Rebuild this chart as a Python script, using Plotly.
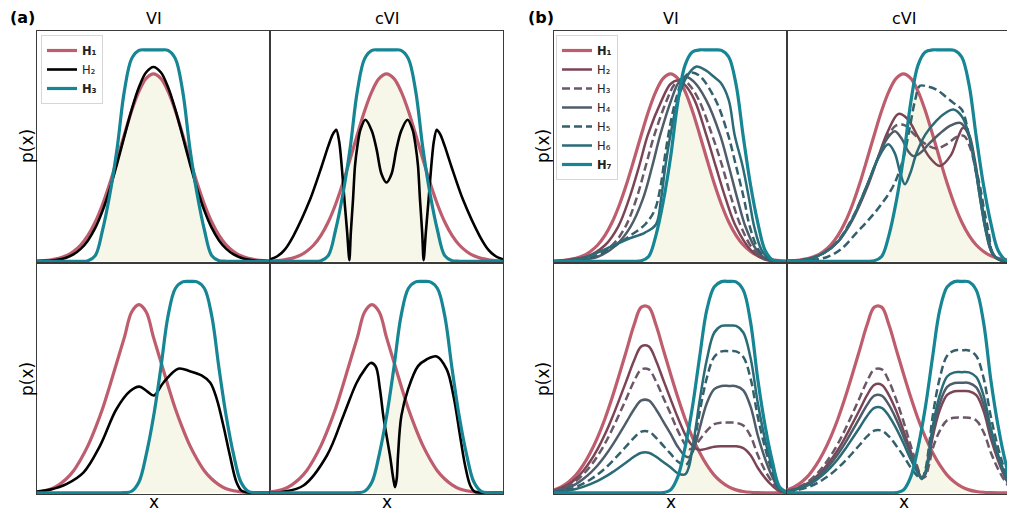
import numpy as np
import plotly.graph_objects as go

# ---------------- shared x grids (data units) ----------------
X = list(range(33))
XB = list(range(19)) + [18.5, 19, 19.5] + list(range(20, 33))

# ---------------- panel (a), top row ----------------
A_TOP_H1 = [0.15, 0.3, 0.7, 1.3, 2.4, 4.3, 7.1, 11.3, 17.1, 24.7, 33.9, 44.3, 55.1, 65.4, 73.8, 79.4, 81.4,
            79.4, 73.8, 65.4, 55.1, 44.3, 33.9, 24.7, 17.1, 11.3, 7.1, 4.3, 2.4, 1.3, 0.7, 0.3, 0.15]
A_TOP_H3 = [0, 0, 0, 0, 0, 0, 0, 0.3, 2.5, 13.5, 29, 49, 74, 88, 91.6, 91.8, 91.8,
            91.8, 91.6, 88, 74, 49, 29, 13.5, 2.5, 0.3, 0.05, 0, 0, 0, 0, 0, 0]
A_TOP_VI_H2 = [0.1, 0.2, 0.4, 0.8, 1.6, 3.0, 5.4, 9.1, 14.5, 21.9, 31.3, 42.4, 54.3, 65.9, 75.6, 82.1, 84.4,
               82.1, 75.6, 65.9, 54.3, 42.4, 31.3, 21.9, 14.5, 9.1, 5.4, 3.0, 1.6, 0.8, 0.4, 0.2, 0.1]
A_TOP_CVI_H2_X = [0, 1, 2, 3.2, 5.5, 7.1, 8.0, 8.6, 9.1, 9.5, 9.85, 10.22, 10.6, 10.9, 11.1, 11.4, 11.67, 12.0,
                  12.4, 13.1, 14.0, 14.65, 15.3, 16, 16.7, 17.35, 18.0, 18.9, 19.6, 20.0, 20.33, 20.6, 20.9,
                  21.1, 21.4, 21.78, 22.15, 22.5, 22.9, 23.4, 24.0, 24.9, 26.5, 28.8, 30, 31, 32]
A_TOP_CVI_H2 = [0.8, 2.2, 5, 11, 26.8, 41.3, 50, 55, 57.1, 52, 41.3, 26.8, 12.5, 0.5, 12.5, 26.8, 41.3, 50,
                57, 61.5, 56.5, 48.5, 38, 34.2, 38, 48.5, 56.5, 61.5, 57, 50, 41.3, 26.8, 12.5,
                0.5, 12.5, 26.8, 41.3, 52, 57.1, 55, 50, 41.3, 26.8, 11, 5, 2.2, 0.8]

# ---------------- panel (a), bottom row ----------------
A_BOT_H1 = [0.4, 0.9, 1.8, 3.5, 6, 9.5, 14.5, 20.5, 28, 36.5, 46.5, 57, 67.5, 78.5, 81.7, 78.5, 67.5,
            57, 46.5, 36.5, 28, 20.5, 14.5, 9.5, 6, 3.5, 1.8, 0.9, 0.4, 0.15, 0.05, 0, 0]
A_BOT_H3 = [0, 0, 0, 0, 0, 0, 0, 0, 0, 0, 0, 0, 0.06, 0.7, 4.7, 16.6, 33, 54, 76.8, 88.7, 91.6, 91.8,
            91.6, 88.7, 76.8, 54, 33, 16.6, 4.7, 0.7, 0.06, 0, 0]
A_BOT_VI_H2_X = [0, 1.8, 4.1, 6.4, 8.65, 10.9, 12.8, 14.05, 15.07, 16.07, 17.35, 19.4, 21.0, 22.6, 23.8,
                 24.7, 25.6, 26.5, 27.4, 28.1, 29, 32]
A_BOT_VI_H2 = [0.6, 1.4, 3.9, 8.9, 20.4, 36.3, 44.2, 46.1, 44.2, 42.3, 47.8, 53.9, 52.8, 51.0, 47.8,
               40.6, 29.1, 16.1, 4.6, 0.9, 0.2, 0]
A_BOT_CVI_H2_X = [0, 1.8, 4.6, 7.8, 10.07, 11.9, 13.0, 13.83, 14.5, 15.1, 15.56, 16.0, 16.48, 16.94, 17.17,
                  17.4, 17.58, 18.04, 18.96, 20.33, 21.5, 22.9, 24.27, 25.2, 26.1, 26.8, 27.5, 28.1, 29, 32]
A_BOT_CVI_H2 = [0.1, 0.5, 3.2, 16.1, 33.4, 47.8, 53.5, 56.4, 55, 45, 33.4, 25, 16.1, 6, 2.5,
                6, 16.1, 33.4, 44.9, 55, 57.9, 59.2, 53.6, 42, 24.8, 11.8, 3.2, 0.5, 0.1, 0]

# ---------------- panel (b), top row ----------------
B_TOP_H1 = A_TOP_H1
B_TOP_H7 = [0, 0, 0, 0, 0, 0, 0, 0, 0, 0, 0, 0, 0.25, 2.1, 11.3, 25.9, 45, 69, 85.2, 90.9, 91.8, 91.8,
            91.8, 91.6, 88.7, 76.8, 54, 33, 16.6, 4.7, 0.7, 0.06, 0]

B_TOP_VI_H2_X = [0, 1, 3, 4.5, 7, 8.8, 10.3, 11.7, 12.9, 14.8, 16.0, 17.0, 18.0, 19.3, 20.9, 22.2, 23.6,
                 25.0, 27.0, 28.8, 30.5, 32]
B_TOP_VI_H2 = [0.1, 0.3, 1.2, 2, 7, 15, 27, 41.4, 55, 70, 77, 78.5, 76.5, 70, 55, 41.4, 27, 15, 5, 1, 0.1, 0]
B_TOP_VI_H3_X = [0, 2.5, 5.5, 8, 9.8, 11.3, 12.6, 13.8, 15.5, 16.6, 17.6, 18.6, 19.9, 21.7, 23.1, 24.4,
                 25.7, 27.4, 29.0, 30.5, 32]
B_TOP_VI_H3 = [0.05, 0.6, 2, 7, 15, 27, 41.4, 55, 70, 77, 79, 76.5, 70, 55, 41.4, 27, 15, 5, 1, 0.1, 0]
B_TOP_VI_H4_X = [0, 3, 6, 8.5, 10.5, 12.2, 13.5, 14.6, 16.1, 17.1, 18.1, 19.2, 20.9, 22.8, 24.0, 25.2,
                 26.3, 27.8, 29.2, 30.7, 32]
B_TOP_VI_H4 = [0.05, 0.6, 2, 7, 15, 27, 41.4, 55, 70, 77.5, 80, 78, 70, 55, 41.4, 27, 15, 5, 1, 0.1, 0]
B_TOP_VI_H5_X = [0, 3, 5.5, 8, 10.4, 12.5, 13.8, 14.6, 15.3, 16.0, 16.8, 17.7, 18.8, 20.0, 22.2, 23.9,
                 25.0, 26.1, 26.9, 28.1, 29.4, 30.8, 32]
B_TOP_VI_H5 = [0.05, 0.6, 2, 6, 11, 16, 22, 32, 47, 60, 71, 79, 82, 80.5, 70, 55, 41.4, 27, 15, 5, 1, 0.1, 0]
B_TOP_VI_H6_X = [0, 3, 5, 7.5, 10, 12.5, 14.0, 14.7, 15.3, 16.0, 17.0, 18.2, 19.5, 20.8, 22.0, 22.9,
                 24.0, 24.8, 25.9, 26.8, 27.5, 28.5, 29.6, 31, 32]
B_TOP_VI_H6 = [0, 0.8, 2.5, 6, 9.5, 12.5, 16, 27, 41.4, 55, 70, 80, 84.5, 83, 80, 77.5, 70, 55, 41.4,
               27, 15, 5, 1, 0.1, 0]

B_TOP_CVI_H2_X = [0, 3, 5, 7, 9, 11, 12.5, 13.8, 15.3, 16.5, 18, 19.5, 21.0, 22.5, 23.5, 24.2, 25.0,
                  25.8, 26.6, 27.4, 28.3, 29.3, 32]
B_TOP_CVI_H2 = [0.1, 1, 3.5, 8.5, 18, 32, 45, 56, 64, 62, 54, 45.5, 41.4, 46, 54, 58, 55, 44, 28, 13, 3,
                0.5, 0]
B_TOP_CVI_H3_X = [0, 3, 5, 7, 9, 11, 12.5, 13.8, 15.0, 16.2, 17.5, 19, 20.5, 22, 23.3, 24.3, 25.2, 26,
                  26.8, 27.6, 28.4, 29.4, 32]
B_TOP_CVI_H3 = [0.1, 1, 3.5, 9, 19, 33, 45, 54, 59, 59, 55, 51, 49, 51, 54, 54.5, 49, 38, 24, 11, 3,
                0.5, 0]
B_TOP_CVI_H4_X = [0, 3, 5, 7, 9, 11, 12.5, 13.7, 14.8, 15.8, 16.6, 17.35, 18.3, 19.5, 21, 22.5, 23.8,
                  24.8, 25.6, 26.4, 27.2, 28.1, 29.2, 32]
B_TOP_CVI_H4 = [0.1, 1, 3.5, 8.5, 18.5, 33, 45, 53, 56.5, 53, 48, 45.7, 47, 51, 55.5, 59, 60.1, 56, 46,
                30, 15, 4, 0.6, 0]
B_TOP_CVI_H5_X = [0, 3, 5.45, 7.5, 9.6, 11.2, 12.8, 14.6, 15.95, 16.9, 17.6, 18.27, 19.2, 20.56, 21.8,
                  22.85, 24.0, 25.1, 25.8, 26.5, 27.1, 27.7, 28.3, 29.3, 32]
B_TOP_CVI_H5 = [0.05, 0.5, 1.8, 5.5, 12.6, 18, 24.1, 32.7, 44.3, 58.7, 70, 76.2, 76, 74.5, 71.5, 68.8,
                65.9, 52.9, 42, 32.7, 22, 12.6, 3, 0.5, 0]
B_TOP_CVI_H6_X = [0, 3, 5, 7, 9, 11, 12.5, 13.9, 14.8, 15.5, 16.2, 16.9, 17.8, 19, 20.5, 21.8, 22.85, 24,
                  25, 25.8, 26.6, 27.4, 28.3, 29.3, 32]
B_TOP_CVI_H6 = [0.1, 1, 3.5, 8.5, 18.5, 33, 44.5, 50.8, 47, 39, 33.5, 38, 47, 55, 61, 64.5, 65.9, 63, 55,
                42, 26, 12, 3, 0.5, 0]

# ---------------- panel (b), bottom row ----------------
B_BOT_H1 = [1.3, 2.6, 4.7, 7.7, 12, 17.5, 24.2, 32.2, 41.5, 51.7, 62.3, 73, 80.6, 80.6, 73, 62.3, 51.7,
            41.5, 32.2, 24.2, 17.5, 12, 7.7, 4.7, 2.6, 1.3, 0.6, 0.25, 0.1, 0.03, 0, 0, 0]
B_BOT_H7 = [0, 0, 0, 0, 0, 0, 0, 0, 0, 0, 0, 0, 0, 0, 0, 0.1, 1.2, 6.9, 19.7, 37, 59, 79.6, 89.4, 91.7,
            91.8, 91.6, 88, 74, 49, 29, 13.5, 2.5, 0.3]

B_BOT_VI_H2 = [1.0, 2.1, 3.7, 6.1, 9.5, 13.8, 19.1, 25.4, 32.7, 40.8, 49.1, 57.5, 63.6, 63.6, 57.5, 49.1,
               40.8, 32.7, 25.4, 22.5, 20.5, 19.2, 18.6, 19.2, 20, 20.2, 20.2, 20.2, 19.4, 16.3, 10.8,
               6.4, 3.0, 0.6, 0.1]
B_BOT_VI_H3 = [0.9, 1.7, 3.1, 5.1, 8.0, 11.6, 16.1, 21.4, 27.6, 34.4, 41.4, 48.5, 53.6, 53.6, 48.5, 41.4,
               34.4, 27.0, 21, 19, 19.3, 20.8, 23, 27, 29.8, 30.5, 30.5, 30.4, 29.2, 24.6, 16.3, 9.6,
               4.5, 0.8, 0.1]
B_BOT_VI_H4 = [0.6, 1.3, 2.4, 3.8, 6.0, 8.7, 12.0, 16.0, 20.6, 25.7, 31.0, 36.3, 40.1, 40.1, 36.3, 31.0,
               25.7, 20, 16, 15.5, 17.5, 22, 28, 39, 45, 46.4, 46.4, 46.3, 44.5, 37.4, 24.8, 14.7, 6.8,
               1.3, 0.1]
B_BOT_VI_H5 = [0.4, 0.9, 1.6, 2.5, 4.0, 5.8, 8.0, 10.6, 13.7, 17.0, 20.5, 24.0, 26.6, 26.6, 24.0, 20.5,
               17.0, 13.6, 12, 13.5, 18.5, 26, 35, 50, 59, 61.4, 61.5, 61.4, 59, 49.6, 32.8, 19.4, 9.0,
               1.7, 0.2]
B_BOT_VI_H6 = [0.3, 0.6, 1.0, 1.7, 2.6, 3.8, 5.2, 6.9, 8.9, 11.1, 13.4, 15.7, 17.4, 17.4, 15.7, 13.4,
               11.1, 8.5, 8, 11, 19, 29, 40, 58, 69.5, 72.5, 72.6, 72.5, 69.6, 58.5, 38.8, 22.9, 10.7,
               2.0, 0.2]

B_BOT_CVI_H2 = [0.8, 1.5, 2.8, 4.5, 7.0, 10.2, 14.1, 18.7, 24.1, 30.1, 36.2, 42.4, 46.9, 46.9, 42.4, 35.5,
                27, 18, 9.5, 6.5, 8, 15, 24, 36, 42.5, 44.1, 44.2, 44.1, 42.4, 35.6, 23.6, 14.0, 6.5,
                1.2, 0.1]
B_BOT_CVI_H3 = [0.9, 1.7, 3.1, 5.1, 8.0, 11.6, 16.1, 21.4, 27.6, 34.4, 41.4, 48.5, 53.6, 53.6, 48.5, 40.5,
                31, 20.5, 10.5, 6.5, 7, 12, 19, 27, 31.5, 32.6, 32.7, 32.6, 31.4, 26.4, 17.5, 10.3, 4.8,
                0.9, 0.1]
B_BOT_CVI_H4 = [0.7, 1.4, 2.5, 4.0, 6.3, 9.2, 12.7, 16.9, 21.7, 27.1, 32.7, 38.2, 42.2, 42.2, 38.2, 32,
                24.5, 16.5, 9, 6.3, 8.5, 16, 26, 39, 46, 47.7, 47.8, 47.7, 45.8, 38.5, 25.5, 15.1, 7.0,
                1.3, 0.1]
B_BOT_CVI_H5 = [0.4, 0.9, 1.6, 2.6, 4.0, 5.9, 8.1, 10.8, 13.9, 17.3, 20.9, 24.5, 27.0, 27.0, 24.5, 20.5,
                16, 11, 7, 6, 10, 20, 33, 50, 59.5, 61.8, 61.9, 61.8, 59.4, 49.9, 33.1, 19.6, 9.1, 1.7,
                0.2]
B_BOT_CVI_H6 = [0.6, 1.2, 2.2, 3.5, 5.5, 8.0, 11.1, 14.7, 19.0, 23.7, 28.5, 33.4, 36.9, 36.9, 33.4, 28,
                21.5, 14.5, 8.5, 6.2, 9, 17.5, 28.5, 42.5, 50.5, 52.3, 52.4, 52.3, 50.3, 42.2, 28, 16.6,
                7.7, 1.4, 0.2]

# ---------------- labels ----------------
LEG_A = ["<b>H₁</b>", "H₂", "<b>H₃</b>"]
LEG_B = ["<b>H₁</b>", "H₂", "H₃", "H₄", "H₅", "H₆", "<b>H₇</b>"]
COLS = ["VI", "cVI"]

# ---------------- styles ----------------
C = ["#bd5d6d", "#7c4556", "#6a5868", "#4f5c6a", "#34606c", "#2a6b77", "#168594"]
DASH = ["solid", "solid", "8px,4px", "solid", "8px,4px", "solid", "solid"]
FILL = "#f7f7e9"
FRAME = "#3a3a3a"
FONT = "DejaVu Sans"

# the page body adds an 8px offset; all layout positions below are in page pixels
OFF = 8
PAGE_W, PAGE_H = 1015, 514
W, H = PAGE_W - OFF, PAGE_H - OFF
XL = [(37, 270, 32), (270, 503, 32), (554, 787, 32), (787, 1015, 31.32)]
YR = [(31, 262.5), (262.5, 494)]
YMIN, YMAX = -0.5, 100


def fx(px):
    return (px - OFF) / W


def fy(py):
    return 1 - (py - OFF) / H


fig = go.Figure()


def curve(n, x, y, color, width, dash="solid", name=None, legend=None, smooth=1.0):
    fig.add_trace(go.Scatter(
        x=x, y=y, mode="lines", xaxis=f"x{n}", yaxis=f"y{n}",
        line=dict(color=color, width=width, dash=dash, shape="spline", smoothing=smooth),
        name=name, showlegend=name is not None, legend=legend, hoverinfo="skip"))


def fill(n, x, a, b):
    fig.add_trace(go.Scatter(
        x=x, y=np.minimum(np.array(a), np.array(b)), mode="lines", xaxis=f"x{n}", yaxis=f"y{n}",
        line=dict(width=0, shape="spline"), fill="tozeroy", fillcolor=FILL,
        showlegend=False, hoverinfo="skip"))


# panel (a)
for n, (h1, h3, hx, h2) in enumerate([
        (A_TOP_H1, A_TOP_H3, X, A_TOP_VI_H2),
        (A_TOP_H1, A_TOP_H3, A_TOP_CVI_H2_X, A_TOP_CVI_H2),
        (A_BOT_H1, A_BOT_H3, A_BOT_VI_H2_X, A_BOT_VI_H2),
        (A_BOT_H1, A_BOT_H3, A_BOT_CVI_H2_X, A_BOT_CVI_H2)], start=1):
    fill(n, X, h1, h3)
    first = n == 1
    curve(n, X, h1, C[0], 3.2, name=LEG_A[0] if first else None, legend="legend")
    curve(n, hx, h2, "black", 2.6, name=LEG_A[1] if first else None, legend="legend",
          smooth=0.8 if n == 2 else 1.0)
    curve(n, X, h3, C[6], 3.2, name=LEG_A[2] if first else None, legend="legend")

# panel (b)
b_sets = {
    5: (B_TOP_H1, B_TOP_H7, [(B_TOP_VI_H2_X, B_TOP_VI_H2), (B_TOP_VI_H3_X, B_TOP_VI_H3),
                            (B_TOP_VI_H4_X, B_TOP_VI_H4), (B_TOP_VI_H5_X, B_TOP_VI_H5),
                            (B_TOP_VI_H6_X, B_TOP_VI_H6)]),
    6: (B_TOP_H1, B_TOP_H7, [(B_TOP_CVI_H2_X, B_TOP_CVI_H2), (B_TOP_CVI_H3_X, B_TOP_CVI_H3),
                            (B_TOP_CVI_H4_X, B_TOP_CVI_H4), (B_TOP_CVI_H5_X, B_TOP_CVI_H5),
                            (B_TOP_CVI_H6_X, B_TOP_CVI_H6)]),
    7: (B_BOT_H1, B_BOT_H7, [(XB, B_BOT_VI_H2), (XB, B_BOT_VI_H3), (XB, B_BOT_VI_H4),
                            (XB, B_BOT_VI_H5), (XB, B_BOT_VI_H6)]),
    8: (B_BOT_H1, B_BOT_H7, [(XB, B_BOT_CVI_H2), (XB, B_BOT_CVI_H3), (XB, B_BOT_CVI_H4),
                            (XB, B_BOT_CVI_H5), (XB, B_BOT_CVI_H6)]),
}
for n, (h1, h7, mids) in b_sets.items():
    first = n == 5
    fill(n, X, h1, h7)
    curve(n, X, h1, C[0], 3.2, name=LEG_B[0] if first else None, legend="legend2")
    for j, (mx, my) in enumerate(mids, start=1):
        curve(n, mx, my, C[j], 2.5, dash=DASH[j], name=LEG_B[j] if first else None, legend="legend2")
    curve(n, X, h7, C[6], 3.2, name=LEG_B[6] if first else None, legend="legend2")

# axes
layout = {}
cells = [(0, 0), (1, 0), (0, 1), (1, 1), (2, 0), (3, 0), (2, 1), (3, 1)]
for n, (ci, ri) in enumerate(cells, start=1):
    x0, x1, xmax = XL[ci]
    y0, y1 = YR[ri]
    sfx = "" if n == 1 else str(n)
    layout[f"xaxis{sfx}"] = dict(domain=[fx(x0), min(fx(x1), 1.0)], range=[0, xmax], anchor=f"y{n}",
                                 showticklabels=False, ticks="", showgrid=False, zeroline=False,
                                 showline=True, linecolor=FRAME, linewidth=1.4, mirror=True,
                                 fixedrange=True)
    layout[f"yaxis{sfx}"] = dict(domain=[fy(y1), fy(y0)], range=[YMIN, YMAX],
                                 anchor=f"x{n}", showticklabels=False, ticks="", showgrid=False,
                                 zeroline=False, showline=True, linecolor=FRAME, linewidth=1.4,
                                 mirror=(ci != 3), fixedrange=True)

ann = []


def txt(t, xp, yp, size, angle=0):
    ann.append(dict(text=t, x=fx(xp), y=fy(yp), xref="paper", yref="paper", showarrow=False,
                    xanchor="center", yanchor="middle", textangle=angle, borderpad=0,
                    font=dict(family=FONT, size=size, color="black")))


txt("<b>(a)</b>", 22, 17, 16)
txt("<b>(b)</b>", 541, 17, 16)
for ci in range(4):
    x0 = XL[ci][0]
    cx = x0 + 116.5
    txt(COLS[ci % 2], cx, 19, 16)
    txt("x", cx, 502, 17)
for px in (27, 543):
    txt("p(x)", px, 146, 17, -90)
    txt("p(x)", px, 379, 17, -90)

leg_common = dict(bgcolor="white", bordercolor="#d6d6d6", borderwidth=1, xanchor="left", yanchor="top",
                  font=dict(family=FONT, size=11.5, color="#222"), tracegroupgap=0, itemwidth=30)
fig.update_layout(
    width=W, height=H, margin=dict(l=0, r=0, t=0, b=0), paper_bgcolor="white", plot_bgcolor="white",
    font=dict(family=FONT), annotations=ann,
    legend=dict(x=fx(41), y=fy(35), **leg_common),
    legend2=dict(x=fx(556), y=fy(35), **leg_common),
    **layout)

fig.write_html("out.html")
